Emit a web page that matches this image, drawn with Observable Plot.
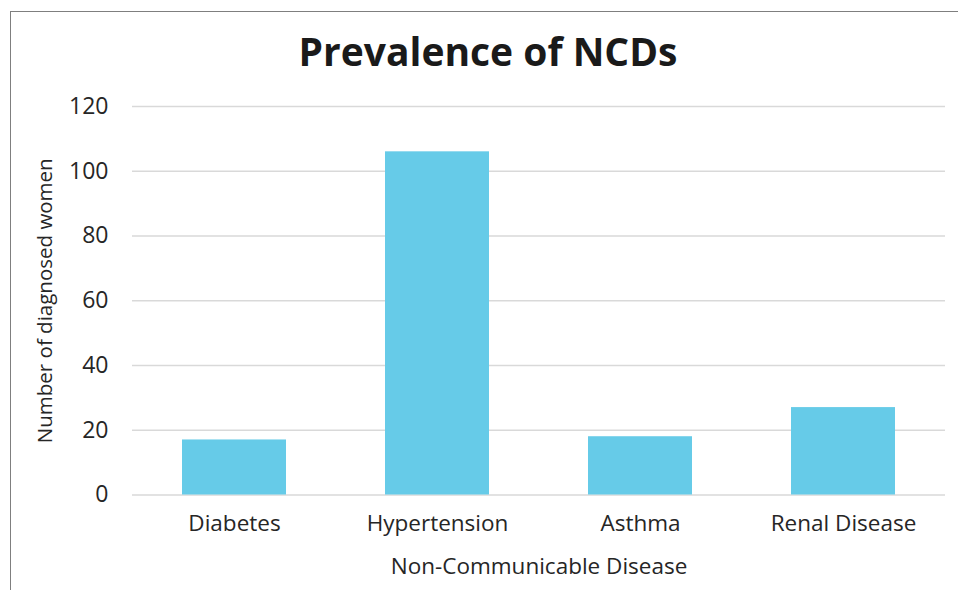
<!DOCTYPE html>
<html>
<head>
<meta charset="utf-8">
<script src="https://cdn.jsdelivr.net/npm/d3@7"></script>
<script src="https://cdn.jsdelivr.net/npm/@observablehq/plot@0.6"></script>
<style>
  html, body { margin: 0; padding: 0; background: #fff; overflow: hidden; }
  body { width: 958px; height: 590px; position: relative; font-family: "Open Sans", "Noto Sans", sans-serif; }
  #frame { position: absolute; left: 10px; top: 11px; width: 960px; height: 600px;
           border-left: 1.5px solid #7f7f7f; border-top: 1.5px solid #7f7f7f; }
  #title { position: absolute; left: 0; top: 27px; width: 976px; text-align: center;
           font-size: 39px; font-weight: 700; color: #1a1a1a; line-height: 48px; }
  #chart { position: absolute; left: 0; top: 85px; }
</style>
</head>
<body>
<div id="frame"></div>
<div id="title">Prevalence of NCDs</div>
<div id="chart"></div>
<script>
const categories = ["Diabetes", "Hypertension", "Asthma", "Renal Disease"];
const values = [17, 106, 18, 27];
const yTicks = [0, 20, 40, 60, 80, 100, 120];
const xTitle = "Non-Communicable Disease";
const yTitle = "Number of diagnosed women";

const data = categories.map((c, i) => ({category: c, value: values[i]}));

const chart = Plot.plot({
  width: 958,
  height: 505,
  marginLeft: 132,
  marginRight: 13,
  marginTop: 21,
  marginBottom: 95.5,
  style: {fontFamily: "'Open Sans', 'Noto Sans', sans-serif", color: "#262626", background: "transparent"},
  x: {domain: categories, paddingInner: 0.49, paddingOuter: 0.245, axis: null},
  y: {domain: [0, 120], axis: null},
  marks: [
    Plot.gridY(yTicks, {stroke: "#d9d9d9", strokeOpacity: 1, strokeWidth: 1.5}),
    Plot.barY(data, {x: "category", y: "value", fill: "#66cbe8"}),
    Plot.axisX({tickSize: 0, tickPadding: 20, fontSize: 22.5, label: null, fill: "#262626"}),
    Plot.axisY(yTicks, {tickSize: 0, tickPadding: 24, fontSize: 23, label: null, fill: "#262626"}),
    Plot.text([xTitle], {frameAnchor: "bottom", dy: 79, fontSize: 22.5, fill: "#262626"}),
    Plot.text([yTitle], {frameAnchor: "left", dx: -87, rotate: -90, textAnchor: "middle", fontSize: 20.5, fill: "#262626"})
  ]
});
document.getElementById("chart").appendChild(chart);
</script>
</body>
</html>
